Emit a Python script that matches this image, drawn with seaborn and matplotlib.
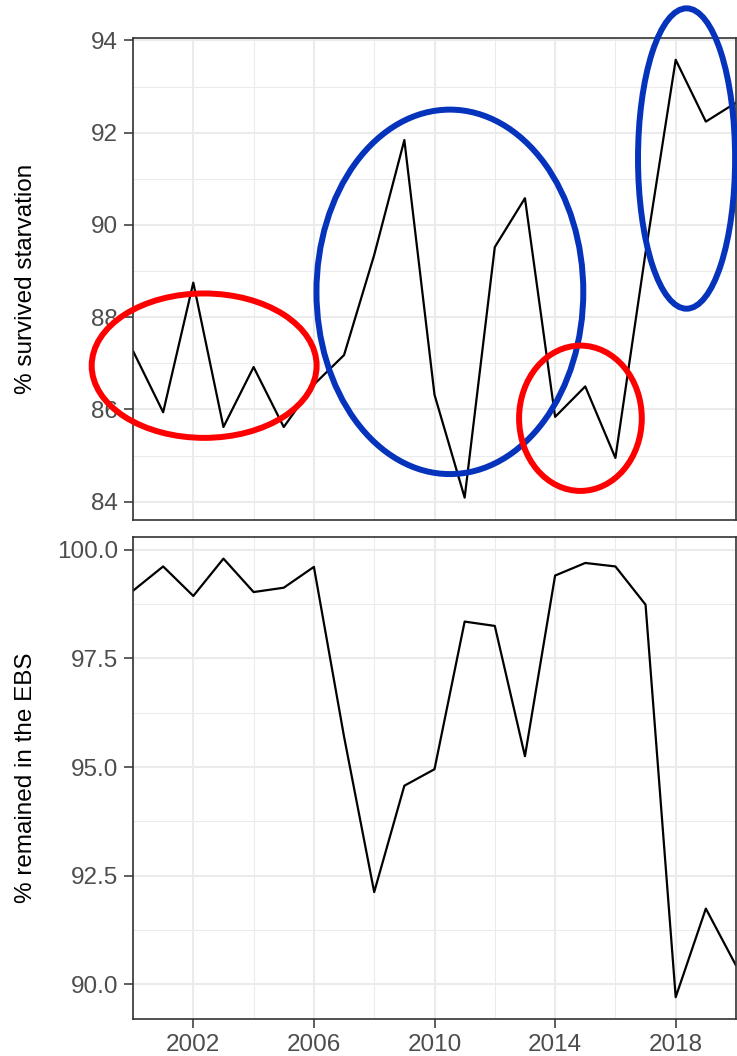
import numpy as np
import pandas as pd
import matplotlib
matplotlib.use("Agg")
import matplotlib.pyplot as plt
import seaborn as sns
from matplotlib.patches import Ellipse
from matplotlib.ticker import FixedLocator, MultipleLocator

# ---------------- data ----------------
years = list(range(2000, 2021))
survived = [87.27, 85.94, 88.75, 85.62, 86.92, 85.62, 86.54, 87.18, 89.35, 91.84,
            86.32, 84.09, 89.52, 90.58, 85.84, 86.50, 84.95, 89.40, 93.58, 92.24, 92.65]
remained = [99.06, 99.62, 98.94, 99.80, 99.03, 99.13, 99.61, 95.70, 92.12, 94.57,
            94.95, 98.35, 98.25, 95.25, 99.41, 99.70, 99.62, 98.74, 89.70, 91.74, 90.43]
x_ticks = [2002, 2006, 2010, 2014, 2018]
top_y_ticks = [84, 86, 88, 90, 92, 94]
bottom_y_ticks = [90.0, 92.5, 95.0, 97.5, 100.0]
top_ylabel = "% survived starvation"
bottom_ylabel = "% remained in the EBS"

# highlight ellipses (top panel, data coordinates)
ell_x = [2002.36, 2010.51, 2014.84, 2018.36]
ell_y = [86.95, 88.55, 85.81, 91.44]
ell_w = [7.46, 8.85, 4.07, 3.22]
ell_h = [3.13, 7.90, 3.15, 6.51]
ell_colors = ["#FF0000", "#0533BB", "#FF0000", "#0533BB"]

df = pd.DataFrame({"year": years, "survived": survived, "remained": remained})

# ---------------- style ----------------
sns.set_theme(style="white")
plt.rcParams["font.family"] = ["Liberation Sans", "DejaVu Sans"]

W, H = 737, 1056
fig = plt.figure(figsize=(W / 100, H / 100), dpi=100)

left_px, right_px = 133, 736
ax_top = fig.add_axes([left_px / W, 1 - 519.5 / H, (right_px - left_px) / W, (519.5 - 37.9) / H])
ax_bot = fig.add_axes([left_px / W, 1 - 1019.1 / H, (right_px - left_px) / W, (1019.1 - 536.7) / H])

sns.lineplot(data=df, x="year", y="survived", ax=ax_top, color="black", lw=1.6, zorder=3)
sns.lineplot(data=df, x="year", y="remained", ax=ax_bot, color="black", lw=1.6, zorder=3)

def expand(vals, frac=0.05):
    lo, hi = min(vals), max(vals)
    r = hi - lo
    return lo - frac * r, hi + frac * r

label_x = (37 - left_px) / (right_px - left_px)

for ax, col, yt, ylabel, minor in [
    (ax_top, survived, top_y_ticks, top_ylabel, 1.0),
    (ax_bot, remained, bottom_y_ticks, bottom_ylabel, 1.25),
]:
    ax.set_xlim(2000, 2020)
    ax.set_ylim(*expand(col))
    ax.xaxis.set_major_locator(FixedLocator(x_ticks))
    ax.xaxis.set_minor_locator(FixedLocator([2000, 2004, 2008, 2012, 2016, 2020]))
    ax.yaxis.set_major_locator(FixedLocator(yt))
    ax.yaxis.set_minor_locator(MultipleLocator(minor * 2 if False else minor))
    ax.set_facecolor("white")
    ax.grid(which="major", color="#EBEBEB", lw=1.5, zorder=0)
    ax.grid(which="minor", color="#EBEBEB", lw=0.75, zorder=0)
    ax.set_axisbelow(True)
    for s in ax.spines.values():
        s.set_color("#333333")
        s.set_linewidth(1.2)
        s.set_zorder(5)
    ax.tick_params(which="major", axis="both", length=6.5, width=1.1, color="#333333",
                   labelsize=17.5, labelcolor="#4D4D4D", pad=4.2, left=True, bottom=True)
    ax.tick_params(which="minor", length=0)
    ax.set_xlabel("")
    ax.set_ylabel(ylabel, fontsize=17.5, color="black")
    ax.yaxis.set_label_coords(label_x, 0.5)

ax_top.yaxis.set_major_formatter(matplotlib.ticker.FuncFormatter(lambda v, p: f"{v:.0f}"))
ax_bot.yaxis.set_major_formatter(matplotlib.ticker.FuncFormatter(lambda v, p: f"{v:.1f}"))
ax_top.tick_params(axis="x", which="major", length=0, labelbottom=False)

for cx, cy, w, h, c in zip(ell_x, ell_y, ell_w, ell_h, ell_colors):
    e = Ellipse((cx, cy), w, h, fill=False, edgecolor=c, lw=4.3, clip_on=False, zorder=6)
    ax_top.add_patch(e)

fig.savefig("out.png", dpi=100)
